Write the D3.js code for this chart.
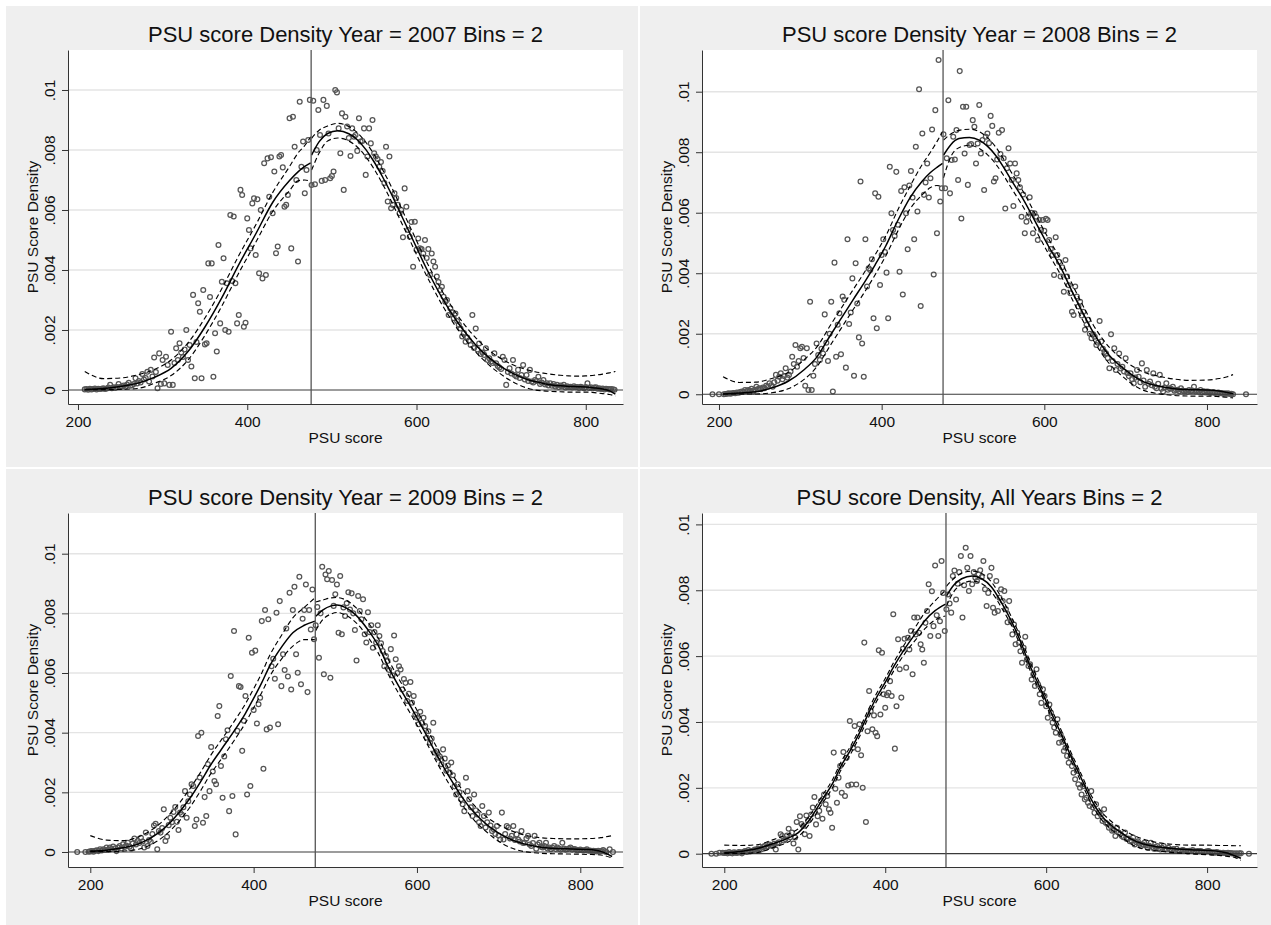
<!DOCTYPE html>
<html>
<head>
<meta charset="utf-8">
<script src="https://cdn.jsdelivr.net/npm/d3@7"></script>
<style>
  body { margin: 0; background: #fff; }
  text { font-family: "Liberation Sans", Arial, Helvetica, sans-serif; fill: #111; }
</style>
</head>
<body>
<svg id="chart" width="1271" height="925"></svg>
<script>
// densities are in units of 1e-5, one value per 2-point bin (null = empty bin)
var UNIT = 1e-5;
var cutoff = 475.5;
var xTicks = [200, 400, 600, 800];
var yTicks = [0, 0.002, 0.004, 0.006, 0.008, 0.01];
var yTickLabels = ["0", ".002", ".004", ".006", ".008", ".01"];
var titles = [
  "PSU score Density Year = 2007 Bins = 2",
  "PSU score Density Year = 2008 Bins = 2",
  "PSU score Density Year = 2009 Bins = 2",
  "PSU score Density, All Years Bins = 2"
];

// ---- 2007 ----
var start2007 = 208;
var dens2007 = [
  2,3,1,4,2,3,5,2,4,3, 4,6,3,5,8,17,6,9,7,10, 20,10,12,15,11,18,24,14,16,20,
  39,22,30,25,53,35,40,61,28,67, 45,108,60,6,122,20,100,22,111,83,
  17,194,17,90,139,100,156,125,110,135, 200,100,150,78,317,39,160,289,261,39,
  333,152,156,422,310,422,44,189,128,483, 222,361,439,200,356,194,583,363,578,356,
  222,250,667,650,211,224,572,533,472,622, 639,450,636,389,600,372,756,383,772,644,
  776,589,728,456,478,778,783,742,611,617, 650,906,472,911,811,700,428,961,744,828,
  656,733,833,967,
  683,964,686,800,933,850,697,967,700,947, 855,706,713,728,1000,992,872,789,922,667,
  911,878,840,780,872,844,850,797,906,828, 830,872,717,778,872,822,900,789,778,770,
  744,760,730,690,811,628,778,606,617,656, 640,617,589,600,509,672,611,533,511,560,
  411,561,467,505,472,470,455,500,440,470, 383,455,428,411,378,360,333,344,311,294,
  300,250,272,260,239,255,230,217,205,178, 190,161,175,165,150,250,140,205,135,155,
  120,125,117,139,100,106,95,90,122,89, 80,75,70,111,100,17,60,72,55,100,
  50,45,67,40,50,83,35,50,30,67, 28,25,33,30,44,20,25,33,18,22,
  15,22,14,20,12,17,10,15,12,17, 8,12,10,11,8,12,9,10,7,11,
  8,6,10,22,7,9,5,8,9,4, 6,3,5,2,4,3,2,3,2,1
];
var knotsL2007 = [208,230,250,270,290,310,330,350,370,390,410,430,450,460,468,475];
var fitL2007 = [2,5,12,22,42,72,128,210,308,418,520,625,698,727,745,757];
var hiL2007 = [62,38,40,50,68,100,157,240,338,448,550,658,745,790,815,844];
var loL2007 = [1,1,2,5,22,48,100,182,280,390,492,595,665,697,700,695];
var knotsR2007 = [476,485,495,507,520,530,540,550,560,570,580,590,600,610,620,630,640,650,660,670,680,690,700,710,720,730,740,750,760,770,780,790,800,810,820,828,835];
var fitR2007 = [783,828,855,864,854,834,802,760,710,655,595,535,475,415,360,308,262,220,183,150,122,98,78,61,47,36,28,22,17,14,12,11,10,7,3,-3,-14];
var hiR2007 = [839,866,880,889,878,858,826,784,734,679,619,558,498,438,383,331,285,243,206,174,146,123,104,89,77,68,61,56,52,49,47,46,47,49,53,57,62];
var loR2007 = [733,790,830,840,830,810,778,736,686,631,571,512,452,392,337,285,239,197,160,126,98,73,52,33,18,7,0,-3,-5,-6,-7,-7,-7,-9,-12,-15,-20];

// ---- 2008 ----
var start2008 = 192;
var dens2008 = [
  0,null,null,null,0,null,null,0,1,2, 3,2,3,4,3,6,5,7,9,8, 14,10,14,12,18,9,15,25,17,20,
  17,22,20,28,25,36,30,25,40,64, 45,58,69,50,60,86,55,64,75,124,
  100,163,91,110,152,157,120,28,152,14, 306,14,61,100,168,130,113,150,135,264,
  170,110,200,306,9,435,124,230,268,132, 323,312,88,512,232,270,383,61,433,300,
  188,703,168,58,512,356,416,411,446,251, 664,218,653,361,460,512,470,402,251,752,
  598,543,523,735,560,405,672,330,684,598, 479,690,738,650,512,818,604,1008,292,862,
  659,700,763,650,714,875,396,939,532,1105, 637,681,
  859,681,780,972,664,774,851,776,873,708, 1068,581,950,796,950,692,824,827,906,884,
  763,829,956,796,840,675,851,862,830,920, 887,703,714,776,864,794,873,780,614,747,
  813,763,708,622,763,730,708,684,587,660, 532,570,587,651,600,532,598,587,510,576,
  543,576,540,580,576,510,480,460,394,519, 460,438,389,420,339,444,389,360,334,273,
  262,356,323,290,306,260,273,213,230,246, 200,185,198,190,163,170,242,174,150,140,
  135,120,86,198,110,152,80,100,135,85, 91,75,119,70,60,69,50,36,55,80,
  58,40,102,45,25,80,35,42,30,69, 25,20,35,64,18,9,22,36,15,20,
  18,25,12,14,15,10,20,12,9,11, 8,14,10,12,25,9,11,8,14,7,
  10,6,9,8,5,6,7,4,5,6, 3,4,2,3,2,3,1,2,0,null,
  null,null,null,null,null,null,0
];
var knotsL2008 = [205,225,245,265,285,305,320,337,350,365,380,392,405,420,435,450,460,468,475];
var fitL2008 = [1,4,8,21,43,82,122,195,250,313,375,428,490,575,650,705,733,750,763];
var hiL2008 = [58,39,40,52,72,115,155,228,283,346,408,461,523,610,688,760,800,835,868];
var loL2008 = [1,1,1,5,18,50,90,162,217,280,342,395,457,540,613,660,683,690,686];
var knotsR2008 = [476,485,495,508,520,530,540,550,560,575,590,605,620,635,650,660,670,680,695,710,723,740,760,780,800,815,825,832];
var fitR2008 = [790,825,845,849,840,820,790,750,705,640,565,490,420,335,255,205,163,128,90,60,40,27,18,15,14,11,6,2];
var hiR2008 = [840,860,872,876,868,848,818,777,731,665,590,515,445,360,280,230,189,155,118,90,72,60,50,46,47,52,58,65];
var loR2008 = [715,785,815,823,812,792,762,723,679,615,540,465,395,310,230,180,137,101,62,30,12,2,-4,-6,-6,-8,-10,-12];

// ---- 2009 ----
var start2009 = 184;
var dens2009 = [
  0,null,null,null,null,0,null,1,2,3, 1,4,6,3,9,5,9,7,15,8, 15,10,18,12,3,15,20,12,26,17,
  22,31,18,11,28,45,25,37,30,48, 35,15,65,20,40,34,60,89,95,9,
  70,65,80,143,37,51,90,115,100,134, 151,101,74,132,126,150,204,115,170,193,
  227,221,87,109,389,250,400,98,184,121, 294,204,352,270,238,227,456,489,288,182,
  320,378,408,137,590,188,741,59,406,556, 553,339,440,523,193,718,221,668,476,675,
  431,495,517,774,279,811,411,780,417,623, 648,581,802,428,841,556,663,610,749,588,
  869,545,811,889,663,601,923,562,782,811, 897,536,811,746,880,713,
  760,821,651,800,956,596,930,914,942,584, 912,825,864,897,735,925,730,820,791,834,
  871,813,867,800,744,642,858,808,780,847, 730,702,804,737,760,685,737,702,760,724,
  700,674,623,657,640,610,680,592,726,646, 600,623,612,545,580,567,506,530,570,500,
  523,461,450,428,470,433,450,422,383,405, 366,380,433,333,338,316,320,294,344,313,
  272,290,266,300,257,220,193,227,200,177, 160,137,249,204,177,150,121,193,140,126,
  100,87,154,121,82,100,132,89,70,76, 60,87,55,42,132,42,60,87,82,45,
  54,87,40,59,42,35,70,30,31,45, 54,25,20,30,54,11,25,31,18,15,
  20,31,12,15,9,14,20,10,15,11, 8,31,12,8,9,12,15,8,10,9,
  6,6,8,6,5,7,9,4,5,3, 4,3,2,4,2,3,7,2,0,null,
  9,null,0
];
var knotsL2009 = [200,220,240,260,284,300,322,335,347,360,376,390,399,410,419,435,448,462,475];
var fitL2009 = [3,6,14,28,65,105,180,235,290,342,405,465,510,568,620,690,735,760,774];
var hiL2009 = [55,40,38,52,92,135,212,267,322,374,437,497,542,600,655,730,785,820,852];
var loL2009 = [1,1,3,10,40,77,150,205,260,310,373,433,478,535,585,650,690,712,712];
var knotsR2009 = [476,485,495,502,512,525,540,552,565,580,595,610,625,640,655,670,685,699,715,730,750,770,790,810,825,839];
var fitR2009 = [790,812,825,828,820,795,745,695,620,545,475,400,322,250,185,132,93,65,42,28,17,12,10,8,2,-15];
var hiR2009 = [838,845,852,853,846,820,770,720,645,570,500,425,347,275,210,157,118,93,72,58,48,45,44,45,48,55];
var loR2009 = [742,780,798,803,795,770,720,670,595,520,450,375,297,225,160,107,68,38,14,2,-4,-6,-7,-8,-10,-20];

// ---- all years ----
var startAll = 184;
var densAll = [
  0,null,null,0,null,3,null,3,2,3, 1,5,2,1,4,3,2,5,4,1, 6,8,5,11,7,8,10,13,12,16,
  14,13,20,23,18,22,28,25,23,30, 13,32,35,59,54,40,44,55,76,50,
  64,31,49,96,13,114,90,84,59,116, 100,54,119,140,172,89,114,130,160,106,
  180,150,175,135,124,79,307,197,155,231, 266,185,309,175,291,207,403,210,322,388,
  210,317,393,299,200,641,96,372,494,433, 378,420,367,357,618,423,610,484,443,481,
  489,524,479,727,319,448,651,560,474,622, 653,565,656,620,676,545,717,666,717,671,
  636,620,580,701,737,818,661,797,691,875, 724,661,706,889,792,676,
  742,787,760,732,843,860,772,820,855,904, 717,815,929,868,798,904,818,855,838,828,
  848,861,840,889,803,752,792,843,868,747, 732,828,737,777,803,767,798,742,703,767,
  706,666,696,636,671,641,615,580,625,659, 590,570,575,529,545,509,560,514,484,458,
  499,479,448,413,453,428,398,383,367,408, 337,362,340,312,322,297,276,291,266,246,
  226,251,211,200,180,205,165,170,155,145, 190,140,124,150,114,125,119,99,135,94,
  90,79,84,70,72,54,79,64,60,54, 50,64,45,46,38,40,49,28,35,38,
  30,23,28,33,25,18,24,33,20,15, 20,23,16,13,18,23,14,13,18,12,
  11,14,10,15,9,8,10,11,9,8, 7,9,8,11,7,6,8,7,8,6,
  5,6,7,8,5,3,4,3,5,3, 3,2,3,2,1,3,2,1,1,0,
  1,0,1,1,null,null,null,null,0
];
var knotsLAll = [200,220,240,260,280,292,305,322,335,345,357,368,378,388,400,411,425,438,450,462,475];
var fitLAll = [3,7,15,30,48,64,100,165,215,266,315,367,420,469,520,570,625,670,710,738,758];
var hiLAll = [26,25,27,42,60,76,112,177,227,278,327,379,432,481,532,583,640,690,735,768,800];
var loLAll = [1,1,3,18,36,52,88,153,203,254,303,355,408,457,508,557,610,650,685,710,722];
var knotsRAll = [476,485,495,508,520,532,545,557,568,580,595,605,618,630,643,656,668,680,693,705,720,740,760,780,800,815,825,835,842];
var fitRAll = [782,815,835,843,835,810,760,705,645,570,490,435,367,300,232,165,118,88,64,45,30,20,15,12,10,7,2,-7,-14];
var hiRAll = [812,835,852,858,851,825,775,718,658,583,502,447,379,312,244,177,130,100,76,60,45,33,28,26,26,25,25,24,24];
var loRAll = [752,795,818,828,820,795,745,692,632,557,478,423,355,288,220,153,106,76,52,30,15,8,3,0,-3,-5,-8,-12,-20];

// panel layout, axis ranges
var panels = [
  {title: titles[0], ox: 6, oy: 6, w: 632, h: 461, xDom: [188.2, 844], yDom: [-0.000467, 0.011333],
   start: start2007, dens: dens2007,
   sides: [[knotsL2007, fitL2007, loL2007, hiL2007], [knotsR2007, fitR2007, loR2007, hiR2007]]},
  {title: titles[1], ox: 640, oy: 6, w: 631, h: 461, xDom: [179.1, 861.5], yDom: [-0.000322, 0.011378],
   start: start2008, dens: dens2008,
   sides: [[knotsL2008, fitL2008, loL2008, hiL2008], [knotsR2008, fitR2008, loR2008, hiR2008]]},
  {title: titles[2], ox: 6, oy: 469, w: 632, h: 456, xDom: [172.7, 852.3], yDom: [-0.000503, 0.011364],
   start: start2009, dens: dens2009,
   sides: [[knotsL2009, fitL2009, loL2009, hiL2009], [knotsR2009, fitR2009, loR2009, hiR2009]]},
  {title: titles[3], ox: 640, oy: 469, w: 631, h: 456, xDom: [172.3, 862], yDom: [-0.000404, 0.010346],
   start: startAll, dens: densAll,
   sides: [[knotsLAll, fitLAll, loLAll, hiLAll], [knotsRAll, fitRAll, loRAll, hiRAll]]}
];

var PL = 62, PR = 617, PT = 44, PB = 398;
var svg = d3.select("#chart");
svg.append("rect").attr("width", 1271).attr("height", 925).attr("fill", "#fff");

panels.forEach(function(p) {
  var g = svg.append("g").attr("transform", "translate(" + p.ox + "," + p.oy + ")");
  g.append("rect").attr("width", p.w).attr("height", p.h).attr("fill", "#efefef");
  g.append("rect").attr("x", PL).attr("y", PT).attr("width", PR - PL).attr("height", PB - PT).attr("fill", "#fff");

  var x = d3.scaleLinear().domain(p.xDom).range([PL, PR]);
  var y = d3.scaleLinear().domain(p.yDom).range([PB, PT]);

  g.append("g").selectAll("line")
    .data(yTicks.filter(function(v) { return v > 0; }))
    .enter().append("line")
    .attr("x1", PL).attr("x2", PR)
    .attr("y1", function(d) { return y(d); })
    .attr("y2", function(d) { return y(d); })
    .attr("stroke", "#e4e4e4").attr("stroke-width", 1.4);

  var pts = p.dens
    .map(function(v, i) { return [p.start + 2 * i, v]; })
    .filter(function(d) { return d[1] !== null; });
  g.append("g").selectAll("circle")
    .data(pts)
    .enter().append("circle")
    .attr("cx", function(d) { return x(d[0]); })
    .attr("cy", function(d) { return y(d[1] * UNIT); })
    .attr("r", 2.4)
    .attr("fill", "none")
    .attr("stroke", "#555")
    .attr("stroke-width", 1.25);

  g.append("line")
    .attr("x1", PL).attr("x2", PR).attr("y1", y(0)).attr("y2", y(0))
    .attr("stroke", "#3a3a3a").attr("stroke-width", 1.2);

  var line = d3.line()
    .x(function(d) { return x(d[0]); })
    .y(function(d) { return y(d[1] * UNIT); })
    .curve(d3.curveMonotoneX);
  p.sides.forEach(function(s) {
    var kx = s[0];
    [[s[3], true], [s[2], true], [s[1], false]].forEach(function(c) {
      g.append("path")
        .datum(kx.map(function(xv, i) { return [xv, c[0][i]]; }))
        .attr("d", line)
        .attr("fill", "none")
        .attr("stroke", "#000")
        .attr("stroke-width", c[1] ? 1.15 : 1.5)
        .attr("stroke-dasharray", c[1] ? "5,3" : null);
    });
  });

  g.append("line")
    .attr("x1", x(cutoff)).attr("x2", x(cutoff)).attr("y1", PT).attr("y2", PB)
    .attr("stroke", "#555").attr("stroke-width", 1.3);

  var ya = g.append("g").attr("transform", "translate(" + PL + ",0)")
    .call(d3.axisLeft(y).tickValues(yTicks)
      .tickFormat(function(d, i) { return yTickLabels[i]; })
      .tickSize(6).tickSizeOuter(0));
  ya.attr("font-family", null).attr("font-size", 15.5);
  ya.selectAll("path, line").attr("stroke", "#333");
  ya.selectAll(".tick text")
    .attr("x", 0).attr("dy", null)
    .attr("transform", "translate(-13,0) rotate(-90)")
    .attr("text-anchor", "middle");

  var xa = g.append("g").attr("transform", "translate(0," + PB + ")")
    .call(d3.axisBottom(x).tickValues(xTicks).tickSize(6).tickSizeOuter(0));
  xa.attr("font-family", null).attr("font-size", 15.5);
  xa.selectAll("path, line").attr("stroke", "#333");
  xa.selectAll(".tick text").attr("y", 11.5);

  g.append("text")
    .attr("x", (PL + PR) / 2).attr("y", 35.5)
    .attr("text-anchor", "middle").attr("font-size", 22)
    .text(p.title);
  g.append("text")
    .attr("x", (PL + PR) / 2).attr("y", 437)
    .attr("text-anchor", "middle").attr("font-size", 15.5)
    .text("PSU score");
  g.append("text")
    .attr("transform", "translate(" + (PL - 30) + "," + ((PT + PB) / 2) + ") rotate(-90)")
    .attr("text-anchor", "middle").attr("font-size", 15.5)
    .text("PSU Score Density");
});
</script>
</body>
</html>
